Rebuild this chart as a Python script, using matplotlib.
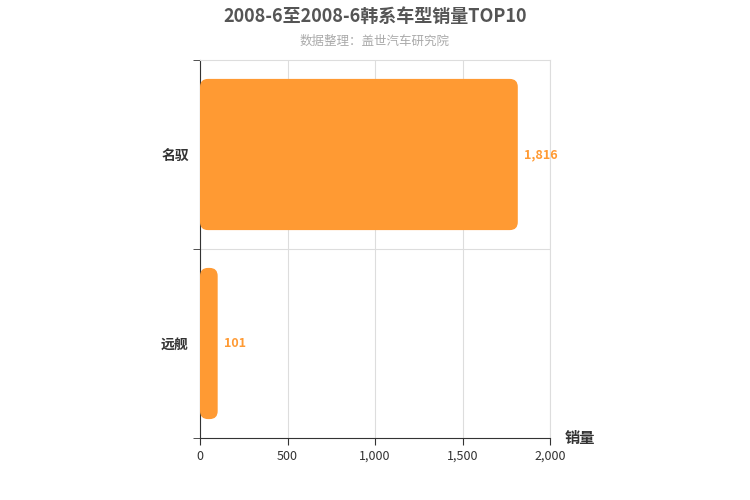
import matplotlib
matplotlib.use('Agg')
import matplotlib.pyplot as plt
from matplotlib.patches import FancyBboxPatch
from matplotlib.ticker import FuncFormatter

plt.rcParams['font.family'] = ['Noto Sans CJK SC', 'DejaVu Sans']

categories = ['名驭', '远舰']
sales = [1816, 101]
bar_color = '#ff9a33'

fig = plt.figure(figsize=(7.5, 5), dpi=100)
ax = fig.add_axes([200 / 750, 1 - 438 / 500, 350 / 750, 378 / 500])

n = len(categories)
ax.set_xlim(0, 2000)
ax.set_ylim(0, n)

# px -> data conversion for rounded corners
ux = 2000 / 350
uy = n / 378
r = 8 * ux
for i, (cat, v) in enumerate(zip(categories, sales)):
    yc = n - i - 0.5
    h = 0.8
    p = FancyBboxPatch((0, yc - h / 2), v, h,
                       boxstyle=f"round,pad=0,rounding_size={r}",
                       mutation_aspect=uy / ux,
                       fc=bar_color, ec='none', zorder=3)
    ax.add_patch(p)
    ax.text(v + 6 * ux, yc, f'{v:,}', color=bar_color, fontsize=9,
            fontweight='bold', va='center', ha='left', zorder=4)

ax.set_yticks([n - i - 0.5 for i in range(n)])
ax.set_yticklabels(categories, fontsize=10, fontweight='bold', color='#333333')
ax.set_yticks(range(n + 1), minor=True)
ax.tick_params(axis='y', which='major', length=0, pad=8)
ax.tick_params(axis='y', which='minor', length=5, color='#333333')

ax.set_xticks([0, 500, 1000, 1500, 2000])
ax.xaxis.set_major_formatter(FuncFormatter(lambda x, p: f'{int(x):,}'))
ax.tick_params(axis='x', labelsize=9, colors='#333333', length=5)
ax.grid(axis='x', color='#dddddd', linewidth=0.8, zorder=0)
ax.axhline(1, color='#dddddd', linewidth=0.8, zorder=0)

for s in ['top', 'right']:
    ax.spines[s].set_color('#dddddd')
ax.spines['left'].set_color('#333333')
ax.spines['bottom'].set_color('#333333')

fig.text(580 / 750, 1 - 438 / 500, '销量', fontsize=11, fontweight='bold',
         color='#333333', ha='center', va='center')
fig.text(0.5, 1 - 16 / 500, '2008-6至2008-6韩系车型销量TOP10', fontsize=13,
         fontweight='bold', color='#555555', ha='center', va='center')
fig.text(0.5, 1 - 41 / 500, '数据整理：盖世汽车研究院', fontsize=9,
         color='#aaaaaa', ha='center', va='center')

fig.savefig('out.png', dpi=100)
